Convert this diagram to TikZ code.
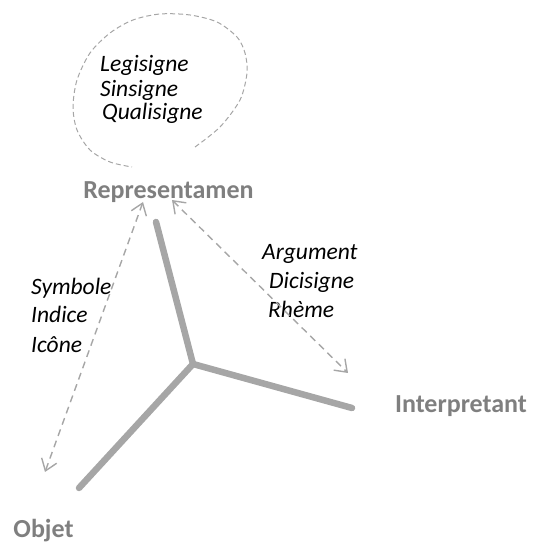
\documentclass[tikz,border=0pt]{standalone}
\usepackage{fontspec}
\setmainfont{Carlito}
\usetikzlibrary{arrows.meta}
\definecolor{armgray}{HTML}{A6A6A6}
\definecolor{labgray}{HTML}{7F7F7F}
\definecolor{dashgray}{HTML}{A6A6A6}
\begin{document}
\begin{tikzpicture}[x=1pt,y=1pt,
  arm/.style={draw=armgray,line width=6.5pt,line cap=round},
  link/.style={draw=dashgray,line width=1.4pt,dash pattern=on 7pt off 5pt,
     {Straight Barb[length=11pt,width=16pt]}-{Straight Barb[length=11pt,width=16pt]}},
  main/.style={text=labgray,font=\fontsize{26}{30}\selectfont\bfseries,inner sep=0pt,anchor=base},
  item/.style={text=black,font=\fontsize{23.5}{28}\selectfont\itshape,inner sep=0pt,anchor=base west}]
\useasboundingbox (0,0) rectangle (537,545);
% arms
\coordinate (c) at (193,181);
\coordinate (top) at (156,323);
\coordinate (right) at (352,137);
\coordinate (left) at (79,57);
\draw[arm] (c) -- (top);
\draw[arm] (c) -- (right);
\draw[arm] (c) -- (left);
% labels
\node[main] (rep) at (168.5,346) {Representamen};
\node[main] (int) at (461,132) {Interpretant};
\node[main] (obj) at (43.5,7) {Objet};
% ellipse
\draw[draw=dashgray,line width=1pt,dash pattern=on 5pt off 3pt] plot[smooth] coordinates {
 (195,398) (220,418) (240,445) (247,472) (245,492) (237,508) (217,523) (190,530)
 (160,531) (133,525) (110,512) (90,492) (77,465) (73,438) (77,415) (90,395) (110,383) (132,378)};
% items
\node[item] (leg) at (100,473) {Legisigne};
\node[item] (sin) at (100,448) {Sinsigne};
\node[item] (qua) at (102,425) {Qualisigne};
\node[item] (sym) at (31,250) {Symbole};
\node[item] (ind) at (31,222) {Indice};
\node[item] (ico) at (31,192) {Icône};
\node[item] (arg) at (262,285) {Argument};
\node[item] (dic) at (269,256) {Dicisigne};
\node[item] (rhe) at (268,227) {Rhème};
% dashed arrows
\coordinate (a1) at (143,343);
\coordinate (b1) at (45,73);
\coordinate (a2) at (172,345);
\coordinate (b2) at (348,172);
\draw[link] (a1) -- (b1);
\draw[link] (a2) -- (b2);
\end{tikzpicture}
\end{document}
